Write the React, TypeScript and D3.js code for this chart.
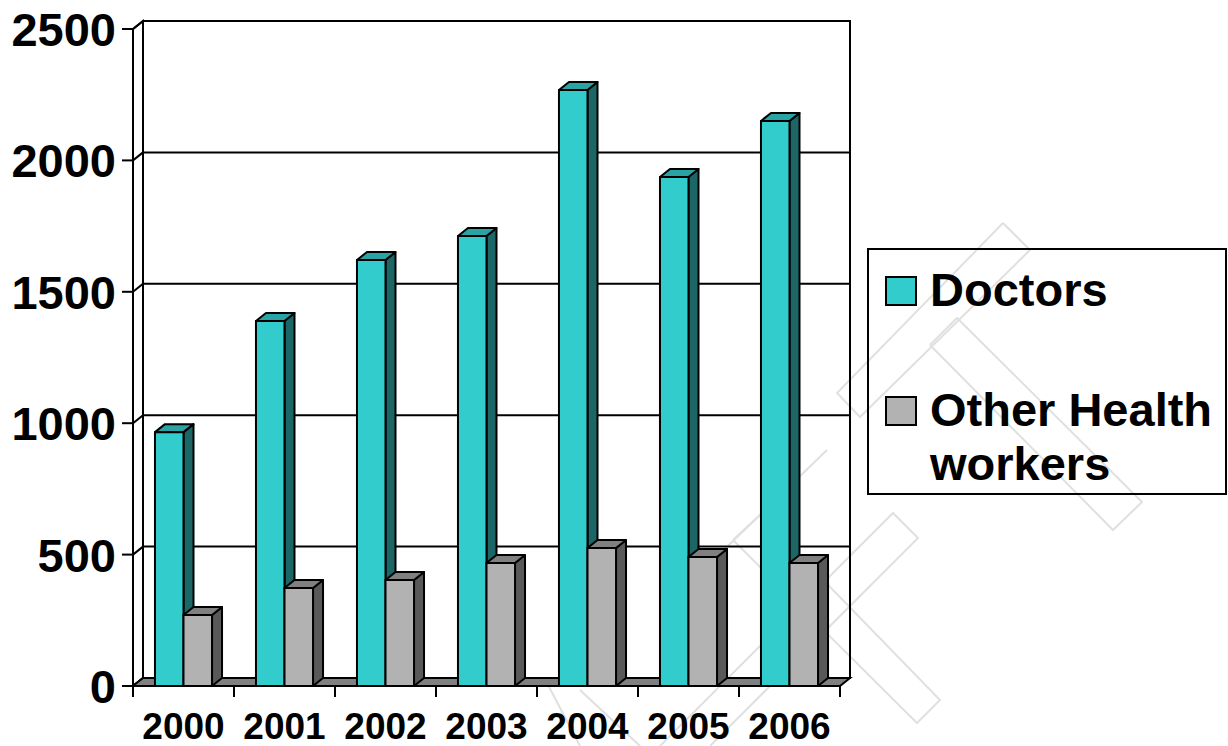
import * as d3 from 'd3';
import React, { useEffect, useRef } from 'react';

// chart data
const years = ['2000', '2001', '2002', '2003', '2004', '2005', '2006'];
const seriesNames = ['Doctors', 'Other Health workers'];
const doctors = [966, 1389, 1621, 1712, 2268, 1937, 2150];
const otherWorkers = [270, 373, 403, 468, 525, 491, 468];
const yTicks = [0, 500, 1000, 1500, 2000, 2500];

const W = 1228;
const H = 746;
const FONT = '"Liberation Sans", Arial, sans-serif';

export default function App() {
  const ref = useRef<SVGSVGElement>(null);

  useEffect(() => {
    const svg = d3.select(ref.current);
    svg.selectAll('*').remove();

    // depth offset of the 3d box
    const dx = 10;
    const dy = -8;

    const y = d3.scaleLinear().domain([0, 2500]).range([686, 29]);
    const x0 = d3.scaleBand<string>().domain(years).range([133, 840]).padding(0);
    const x1 = d3.scaleBand<string>()
      .domain(seriesNames)
      .range([0, x0.bandwidth()])
      .paddingInner(0)
      .paddingOuter(0.77);

    const colors: Record<string, { front: string; side: string; top: string }> = {
      'Doctors': { front: '#33CCCC', side: '#1D6666', top: '#29A3A3' },
      'Other Health workers': { front: '#B2B2B2', side: '#595959', top: '#808080' },
    };

    const [xl, xr] = x0.range();
    const y0 = y(0);
    const yTop = y(2500);
    const pts = (p: number[][]) => p.map(q => q.join(',')).join(' ');

    // faint watermark in the background
    const wm = svg.append('g').attr('fill', 'none').attr('stroke', '#E0E0E0').attr('stroke-width', 2);
    const marks: number[][][] = [
      [[1003, 223], [1030, 250], [860, 417], [837, 393], [1003, 223]],
      [[930, 345], [957, 318], [1142, 502], [1113, 530], [930, 345]],
      [[660, 746], [893, 513], [918, 538], [710, 746]],
      [[733, 540], [760, 515], [940, 700], [917, 723], [733, 540]],
      [[700, 573], [827, 450]],
      [[547, 683], [580, 746]],
      [[580, 690], [640, 746]],
    ];
    marks.forEach(m => {
      wm.append('polyline').attr('points', pts(m));
    });

    // back wall
    svg.append('rect')
      .attr('x', xl + dx).attr('y', yTop + dy)
      .attr('width', xr - xl).attr('height', y0 - yTop)
      .attr('fill', 'none').attr('stroke', '#000').attr('stroke-width', 2);

    // gridlines on back wall
    svg.append('g')
      .selectAll('line')
      .data(yTicks)
      .join('line')
      .attr('x1', xl + dx).attr('x2', xr + dx)
      .attr('y1', d => y(d) + dy).attr('y2', d => y(d) + dy)
      .attr('stroke', '#000').attr('stroke-width', 2);

    // side wall
    svg.append('polygon')
      .attr('points', pts([[xl, yTop], [xl + dx, yTop + dy], [xl + dx, y0 + dy], [xl, y0]]))
      .attr('fill', 'none').attr('stroke', '#000').attr('stroke-width', 2);
    svg.append('g')
      .selectAll('line')
      .data(yTicks)
      .join('line')
      .attr('x1', xl).attr('x2', xl + dx)
      .attr('y1', d => y(d)).attr('y2', d => y(d) + dy)
      .attr('stroke', '#000').attr('stroke-width', 2);

    // floor
    svg.append('polygon')
      .attr('points', pts([[xl, y0], [xr, y0], [xr + dx, y0 + dy], [xl + dx, y0 + dy]]))
      .attr('fill', '#808080').attr('stroke', '#000').attr('stroke-width', 2);

    // bars
    const bars = svg.append('g').attr('stroke', '#000').attr('stroke-width', 2).attr('stroke-linejoin', 'round');
    years.forEach((yr, i) => {
      seriesNames.forEach((s, j) => {
        const v = j === 0 ? doctors[i] : otherWorkers[i];
        const bx = (x0(yr) as number) + (x1(s) as number);
        const bw = x1.bandwidth();
        const by = y(v);
        const c = colors[s];
        // side
        bars.append('polygon')
          .attr('points', pts([[bx + bw, by], [bx + bw + dx, by + dy], [bx + bw + dx, y0 + dy], [bx + bw, y0]]))
          .attr('fill', c.side);
        // top
        bars.append('polygon')
          .attr('points', pts([[bx, by], [bx + dx, by + dy], [bx + bw + dx, by + dy], [bx + bw, by]]))
          .attr('fill', c.top);
        // front
        bars.append('rect')
          .attr('x', bx).attr('y', by)
          .attr('width', bw).attr('height', y0 - by)
          .attr('fill', c.front);
      });
    });

    // y axis
    svg.append('line')
      .attr('x1', xl).attr('x2', xl).attr('y1', yTop).attr('y2', y0)
      .attr('stroke', '#000').attr('stroke-width', 2);
    const yAxis = svg.append('g');
    yAxis.selectAll('line')
      .data(yTicks)
      .join('line')
      .attr('x1', xl - 11).attr('x2', xl)
      .attr('y1', d => y(d)).attr('y2', d => y(d))
      .attr('stroke', '#000').attr('stroke-width', 2);
    yAxis.selectAll('text')
      .data(yTicks)
      .join('text')
      .attr('x', 116)
      .attr('y', d => y(d) + 17)
      .attr('text-anchor', 'end')
      .attr('font-family', FONT)
      .attr('font-weight', 'bold')
      .attr('font-size', 47)
      .text(d => String(d));

    // x axis
    svg.append('line')
      .attr('x1', xl).attr('x2', xr).attr('y1', y0).attr('y2', y0)
      .attr('stroke', '#000').attr('stroke-width', 2);
    const tickXs = years.map(yr => x0(yr) as number).concat([xr]);
    svg.append('g')
      .selectAll('line')
      .data(tickXs)
      .join('line')
      .attr('x1', d => d).attr('x2', d => d)
      .attr('y1', y0).attr('y2', y0 + 11)
      .attr('stroke', '#000').attr('stroke-width', 2);
    svg.append('g')
      .selectAll('text')
      .data(years)
      .join('text')
      .attr('x', d => (x0(d) as number) + x0.bandwidth() / 2)
      .attr('y', 739)
      .attr('text-anchor', 'middle')
      .attr('font-family', FONT)
      .attr('font-weight', 'bold')
      .attr('font-size', 37)
      .text(d => d);

    // legend
    const lg = svg.append('g');
    lg.append('rect')
      .attr('x', 868).attr('y', 249).attr('width', 358).attr('height', 245)
      .attr('fill', 'none').attr('stroke', '#000').attr('stroke-width', 2);
    const legendRows = [
      { name: seriesNames[0], lines: ['Doctors'], sy: 277, base: 306 },
      { name: seriesNames[1], lines: ['Other Health', 'workers'], sy: 397, base: 426 },
    ];
    legendRows.forEach(r => {
      lg.append('rect')
        .attr('x', 886).attr('y', r.sy).attr('width', 30).attr('height', 28)
        .attr('fill', colors[r.name].front).attr('stroke', '#000').attr('stroke-width', 2);
      r.lines.forEach((t, k) => {
        lg.append('text')
          .attr('x', 930).attr('y', r.base + k * 54)
          .attr('font-family', FONT)
          .attr('font-weight', 'bold')
          .attr('font-size', 47)
          .text(t);
      });
    });
  }, []);

  return (
    <svg ref={ref} width={W} height={H} style={{ position: 'absolute', left: 0, top: 0, background: '#fff' }} />
  );
}
